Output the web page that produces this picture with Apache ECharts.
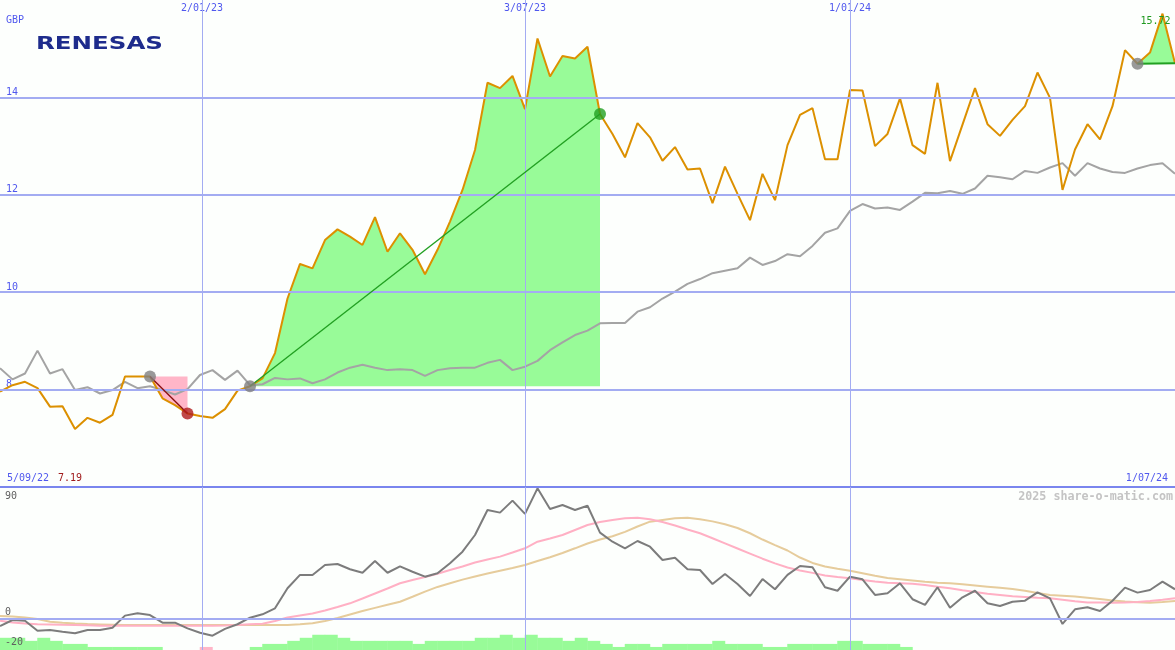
<!DOCTYPE html>
<html><head><meta charset="utf-8">
<script src="https://cdn.jsdelivr.net/npm/echarts@6/dist/echarts.min.js"></script>
<style>html,body{margin:0;padding:0;background:#fdfffd}#c{width:1175px;height:650px}</style>
</head><body><div id="c"></div>
<script>
// ---- data (weekly, index 0 = 5/09/22, index 94 = 1/07/24) ----
const price = [7.96, 8.09, 8.16, 8.03, 7.65, 7.66, 7.19, 7.42, 7.32, 7.48,
  8.27, 8.27, 8.27, 7.82, 7.68, 7.51, 7.46, 7.42, 7.60, 7.98,
  8.07, 8.23, 8.75, 9.87, 10.58, 10.49, 11.07, 11.29, 11.14, 10.97,
  11.54, 10.83, 11.21, 10.87, 10.37, 10.87, 11.45, 12.10, 12.92, 14.30,
  14.19, 14.44, 13.76, 15.21, 14.43, 14.85, 14.80, 15.04, 13.66, 13.25,
  12.77, 13.47, 13.18, 12.70, 12.98, 12.52, 12.54, 11.83, 12.58, 12.02,
  11.48, 12.43, 11.89, 13.02, 13.64, 13.78, 12.73, 12.73, 14.15, 14.14,
  13.00, 13.25, 13.98, 13.02, 12.84, 14.30, 12.69, 13.44, 14.19, 13.45,
  13.21, 13.54, 13.82, 14.51, 13.99, 12.10, 12.93, 13.45, 13.14, 13.82,
  14.97, 14.69, 14.92, 15.72, 14.70];
const indexLine = [8.44, 8.21, 8.33, 8.80, 8.33, 8.42, 7.99, 8.05, 7.92, 7.99,
  8.16, 8.03, 8.07, 7.99, 7.90, 8.01, 8.30, 8.40, 8.20, 8.39,
  8.09, 8.11, 8.24, 8.21, 8.23, 8.13, 8.21, 8.35, 8.45, 8.51,
  8.45, 8.40, 8.42, 8.40, 8.28, 8.40, 8.44, 8.45, 8.45, 8.55,
  8.61, 8.40, 8.47, 8.59, 8.81, 8.97, 9.12, 9.21, 9.36, 9.37,
  9.37, 9.60, 9.69, 9.87, 10.01, 10.17, 10.27, 10.39, 10.44, 10.49,
  10.71, 10.56, 10.64, 10.78, 10.74, 10.95, 11.22, 11.31, 11.67, 11.81,
  11.72, 11.74, 11.69, 11.86, 12.04, 12.03, 12.08, 12.02, 12.13, 12.39,
  12.36, 12.32, 12.49, 12.45, 12.56, 12.65, 12.39, 12.65, 12.54, 12.47,
  12.45, 12.54, 12.61, 12.65, 12.43];
const osc = [-5.0, -0.9, -1.4, -8.2, -7.7, -8.9, -10.0, -7.7, -7.7, -6.2,
  2.1, 3.7, 2.5, -2.7, -2.7, -6.6, -9.6, -11.6, -7.0, -3.8,
  0.7, 3.0, 7.1, 20.8, 29.9, 29.9, 36.7, 37.4, 33.8, 31.4,
  39.4, 31.4, 35.8, 32.1, 28.7, 31.0, 37.9, 45.8, 57.2, 74.3,
  72.5, 80.7, 71.6, 89.1, 75.0, 77.7, 74.3, 77.2, 58.8, 52.6,
  48.1, 53.1, 49.2, 40.1, 41.7, 33.8, 33.3, 23.7, 30.6, 23.7,
  15.5, 27.1, 20.1, 29.9, 36.0, 35.1, 21.5, 19.1, 28.7, 26.9,
  16.2, 17.4, 24.2, 13.3, 9.4, 21.5, 7.5, 14.6, 19.1, 10.5,
  8.7, 11.6, 12.3, 18.0, 13.9, -3.6, 6.4, 7.8, 5.3, 12.3,
  21.2, 17.8, 19.6, 25.3, 20.1];
const maFast = [-1.4, -2.6, -3.3, -3.8, -4.0, -4.2, -4.3, -4.5, -4.8, -4.8,
  -4.8, -4.8, -4.8, -4.8, -4.8, -4.8, -4.8, -4.8, -4.6, -4.3,
  -3.8, -3.4, -1.6, 0.8, 2.2, 3.6, 5.6, 8.0, 10.5, 13.8,
  17.2, 20.6, 24.2, 26.5, 28.5, 30.7, 33.3, 35.7, 38.4, 40.5,
  42.4, 45.2, 48.1, 52.6, 54.8, 57.2, 60.6, 64.0, 66.1, 67.5,
  68.6, 69.0, 68.0, 66.1, 63.7, 61.0, 58.4, 55.0, 51.5, 48.0,
  44.5, 41.0, 37.8, 35.0, 33.0, 31.3, 29.5, 28.5, 27.6, 26.5,
  25.4, 24.5, 24.2, 23.9, 23.0, 21.8, 20.8, 19.4, 18.3, 17.0,
  16.2, 15.3, 14.8, 14.3, 13.9, 12.9, 11.9, 11.1, 11.0, 10.9,
  11.1, 11.4, 12.1, 12.9, 13.9];
const maSlow = [1.8, 1.5, 0.8, -0.2, -2.1, -2.8, -3.3, -3.7, -3.9, -4.1,
  -4.3, -4.3, -4.3, -4.3, -4.3, -4.3, -4.3, -4.3, -4.3, -4.3,
  -4.3, -4.3, -4.3, -4.3, -3.8, -3.1, -1.6, 0.5, 2.9, 5.3,
  7.4, 9.5, 11.6, 15.0, 18.5, 21.7, 24.2, 26.7, 28.8, 30.9,
  32.8, 34.7, 36.7, 39.4, 42.0, 44.9, 48.1, 51.4, 54.1, 56.3,
  59.3, 63.0, 66.3, 67.5, 68.6, 69.0, 68.0, 66.5, 64.5, 62.0,
  58.4, 54.1, 50.3, 46.6, 41.8, 38.1, 35.7, 34.1, 32.8, 31.1,
  29.4, 27.8, 27.0, 26.1, 25.2, 24.6, 24.2, 23.5, 22.7, 21.9,
  21.1, 20.3, 19.1, 17.6, 16.2, 15.7, 15.1, 14.3, 13.5, 12.5,
  11.8, 11.3, 10.9, 11.4, 12.1];
// weekly bar levels (negative = down week, drawn pink)
const barLevel = [4, 4, 3, 4, 3, 2, 2, 1, 1, 1,
  1, 1, 1, 0, 0, 0, -1, 0, 0, 0,
  1, 2, 2, 3, 4, 5, 5, 4, 3, 3,
  3, 3, 3, 2, 3, 3, 3, 3, 4, 4,
  5, 4, 5, 4, 4, 3, 4, 3, 2, 1,
  2, 2, 1, 2, 2, 2, 2, 3, 2, 2,
  2, 1, 1, 2, 2, 2, 2, 3, 3, 2,
  2, 2, 1, 0, 0, 0, 0, 0, 0, 0,
  0, 0, 0, 0, 0, 0, 0, 0, 0, 0,
  0, 0, 0, 0, 0];
const dateLabels = ['2/01/23', '3/07/23', '1/01/24'];
const datePos = [16.16, 42, 68];
const startDate = '5/09/22';
const endDate = '1/07/24';
const priceTicks = [8, 10, 12, 14];
const oscTicks = [-20, 0];
const oscTop = 90;
// trades: start index, end index, open = still running
const trades = [
  { from: 12, to: 15, open: false },
  { from: 20, to: 48, open: false },
  { from: 91, to: 94, open: true }
];

// ---- chart ----
const mono = '"DejaVu Sans Mono", monospace';
const blue = '#5058ee';
const gridBlue = '#a3acf2';
const N = price.length;
const pts = arr => arr.map((v, i) => [i, v]);

const series = [];
// grid lines upper
series.push({
  type: 'line', xAxisIndex: 0, yAxisIndex: 0, data: [], z: 1, silent: true,
  markLine: {
    silent: true, symbol: 'none', animation: false, label: { show: false },
    data: priceTicks.map(v => ({ yAxis: v, lineStyle: { color: gridBlue, width: 2, type: 'solid' } }))
      .concat(datePos.map(v => ({ xAxis: v, lineStyle: { color: gridBlue, width: 1, type: 'solid' } })))
      .concat([{ yAxis: 6, lineStyle: { color: '#7a86ee', width: 2, type: 'solid' } }])
  }
});
// trade areas
trades.forEach(t => {
  const win = price[t.to] >= price[t.from];
  const d = [];
  for (let i = t.from; i <= t.to; i++) d.push([i, price[i]]);
  series.push({
    type: 'line', xAxisIndex: 0, yAxisIndex: 0, data: d, z: 2, showSymbol: false, silent: true,
    lineStyle: { width: 0, opacity: 0 },
    areaStyle: { origin: price[t.from], color: win ? '#98fb98' : '#ffb6c8', opacity: 1 }
  });
});
// index line
series.push({ type: 'line', xAxisIndex: 0, yAxisIndex: 0, data: pts(indexLine), z: 3, showSymbol: false,
  lineStyle: { color: '#a4a4a4', width: 2 } });
// price line
series.push({ type: 'line', xAxisIndex: 0, yAxisIndex: 0, data: pts(price), z: 4, showSymbol: false,
  lineStyle: { color: '#dc9000', width: 2 } });
// trade straight lines and markers
const markers = [];
trades.forEach(t => {
  const win = price[t.to] >= price[t.from];
  series.push({ type: 'line', xAxisIndex: 0, yAxisIndex: 0, z: 5, showSymbol: false,
    data: [[t.from, price[t.from]], [t.to, price[t.to]]],
    lineStyle: { color: t.open ? '#22a022' : (win ? '#22a022' : '#8b1010'), width: t.open ? 2 : 1.4 } });
  markers.push({ value: [t.from, price[t.from]], itemStyle: { color: '#808080' } });
  if (!t.open) markers.push({ value: [t.to, price[t.to]], itemStyle: { color: win ? '#22a022' : '#b01c1c' } });
});
series.push({ type: 'scatter', xAxisIndex: 0, yAxisIndex: 0, z: 6, symbolSize: 12, data: markers, silent: true });

// lower panel grid lines
series.push({
  type: 'line', xAxisIndex: 1, yAxisIndex: 1, data: [], z: 1, silent: true,
  markLine: {
    silent: true, symbol: 'none', animation: false, label: { show: false },
    data: [{ yAxis: 0, lineStyle: { color: gridBlue, width: 2, type: 'solid' } }]
      .concat(datePos.map(v => ({ xAxis: v, lineStyle: { color: gridBlue, width: 1, type: 'solid' } })))
  }
});
// bars
series.push({
  type: 'bar', xAxisIndex: 2, yAxisIndex: 2, z: 2, barWidth: 13, silent: true,
  data: barLevel.map((v, i) => ({ value: [i + 0.5, Math.abs(v)], itemStyle: { color: v < 0 ? '#ffb6c8' : '#98fb98' } }))
});
series.push({ type: 'line', xAxisIndex: 1, yAxisIndex: 1, data: pts(maSlow), z: 3, showSymbol: false,
  lineStyle: { color: '#e6cc9c', width: 2 } });
series.push({ type: 'line', xAxisIndex: 1, yAxisIndex: 1, data: pts(maFast), z: 3, showSymbol: false,
  lineStyle: { color: '#ffb0c4', width: 2 } });
series.push({ type: 'line', xAxisIndex: 1, yAxisIndex: 1, data: pts(osc), z: 4, showSymbol: false,
  lineStyle: { color: '#7c7c7c', width: 2 } });

const xBase = { type: 'value', min: 0, max: N - 1, axisLine: { show: false }, axisTick: { show: false }, splitLine: { show: false } };
const option = {
  animation: false,
  backgroundColor: '#fdfffd',
  grid: [
    { left: 0, right: 0, top: 0, height: 487, outerBoundsMode: 'none' },
    { left: 0, right: 0, top: 487, height: 163, outerBoundsMode: 'none' },
    { left: 0, right: 0, top: 487, height: 163, outerBoundsMode: 'none' }
  ],
  xAxis: [
    Object.assign({}, xBase, { gridIndex: 0, position: 'top',
      axisLabel: { inside: true, margin: 3, customValues: datePos, color: blue, fontSize: 10, fontFamily: mono,
        formatter: v => { const k = datePos.findIndex(p => Math.abs(p - v) < 1e-6); return k >= 0 ? dateLabels[k] : ''; } } }),
    Object.assign({}, xBase, { gridIndex: 1, axisLabel: { show: false } }),
    Object.assign({}, xBase, { gridIndex: 2, axisLabel: { show: false } })
  ],
  yAxis: [
    { gridIndex: 0, type: 'value', min: 6, max: 16, interval: 2, axisLine: { show: false }, axisTick: { show: false }, splitLine: { show: false },
      axisLabel: { inside: true, margin: 6, verticalAlign: 'bottom', color: blue, fontSize: 10, fontFamily: mono,
        formatter: v => priceTicks.includes(v) ? String(v) : '' } },
    { gridIndex: 1, type: 'value', min: -21.4, max: oscTop, axisLine: { show: false }, axisTick: { show: false }, splitLine: { show: false },
      axisLabel: { show: false } },
    { gridIndex: 2, type: 'value', min: 0, max: 163 / 3.05, show: false }
  ],
  series: series
};
const chart = echarts.init(document.getElementById('c'));
chart.setOption(option);

const px = (g, x, y) => chart.convertToPixel({ gridIndex: g }, [x, y]);
const pBot = px(0, 0, 6);
const pEnd = px(0, N - 1, 6);
const minV = Math.min(...price), maxV = Math.max(...price);
const pMax = px(0, price.indexOf(maxV), maxV);
const pTop = px(1, 0, oscTop);
const txt = (x, y, text, fill, font, align, va, extra) => Object.assign({
  type: 'text', silent: true, z: 100,
  style: { x: x, y: y, text: text, fill: fill, font: font, textAlign: align || 'left', textVerticalAlign: va || 'middle' }
}, extra || {});
const oscLabels = oscTicks.map(v => {
  const p = px(1, 0, v);
  return txt(5, p[1] - 6, String(v), '#606060', '10px ' + mono);
});
chart.setOption({
  graphic: [
    txt(6, 20.5, 'GBP', blue, '10px ' + mono),
    { type: 'text', silent: true, z: 100, x: 36, y: 44.5, scaleX: 1.36,
      style: { x: 0, y: 0, text: 'RENESAS', fill: '#1e2c8c', font: 'bold 18px "DejaVu Sans"', textVerticalAlign: 'middle' } },
    txt(pMax[0] - 7, pMax[1] + 7.5, maxV.toFixed(2), '#209a20', '10px ' + mono, 'center'),
    txt(7, pBot[1] - 9, startDate, blue, '10px ' + mono),
    txt(58, pBot[1] - 9, minV.toFixed(2), '#a01c1c', '10px ' + mono),
    txt(pEnd[0] - 7, pEnd[1] - 9, endDate, blue, '10px ' + mono, 'right'),
    txt(5, pTop[1] + 9.5, String(oscTop), '#606060', '10px ' + mono),
    txt(pEnd[0] - 2, pTop[1] + 9.5, '2025 share-o-matic.com', '#c4c4c4', 'bold 11.7px ' + mono, 'right')
  ].concat(oscLabels)
});
</script>
</body></html>
